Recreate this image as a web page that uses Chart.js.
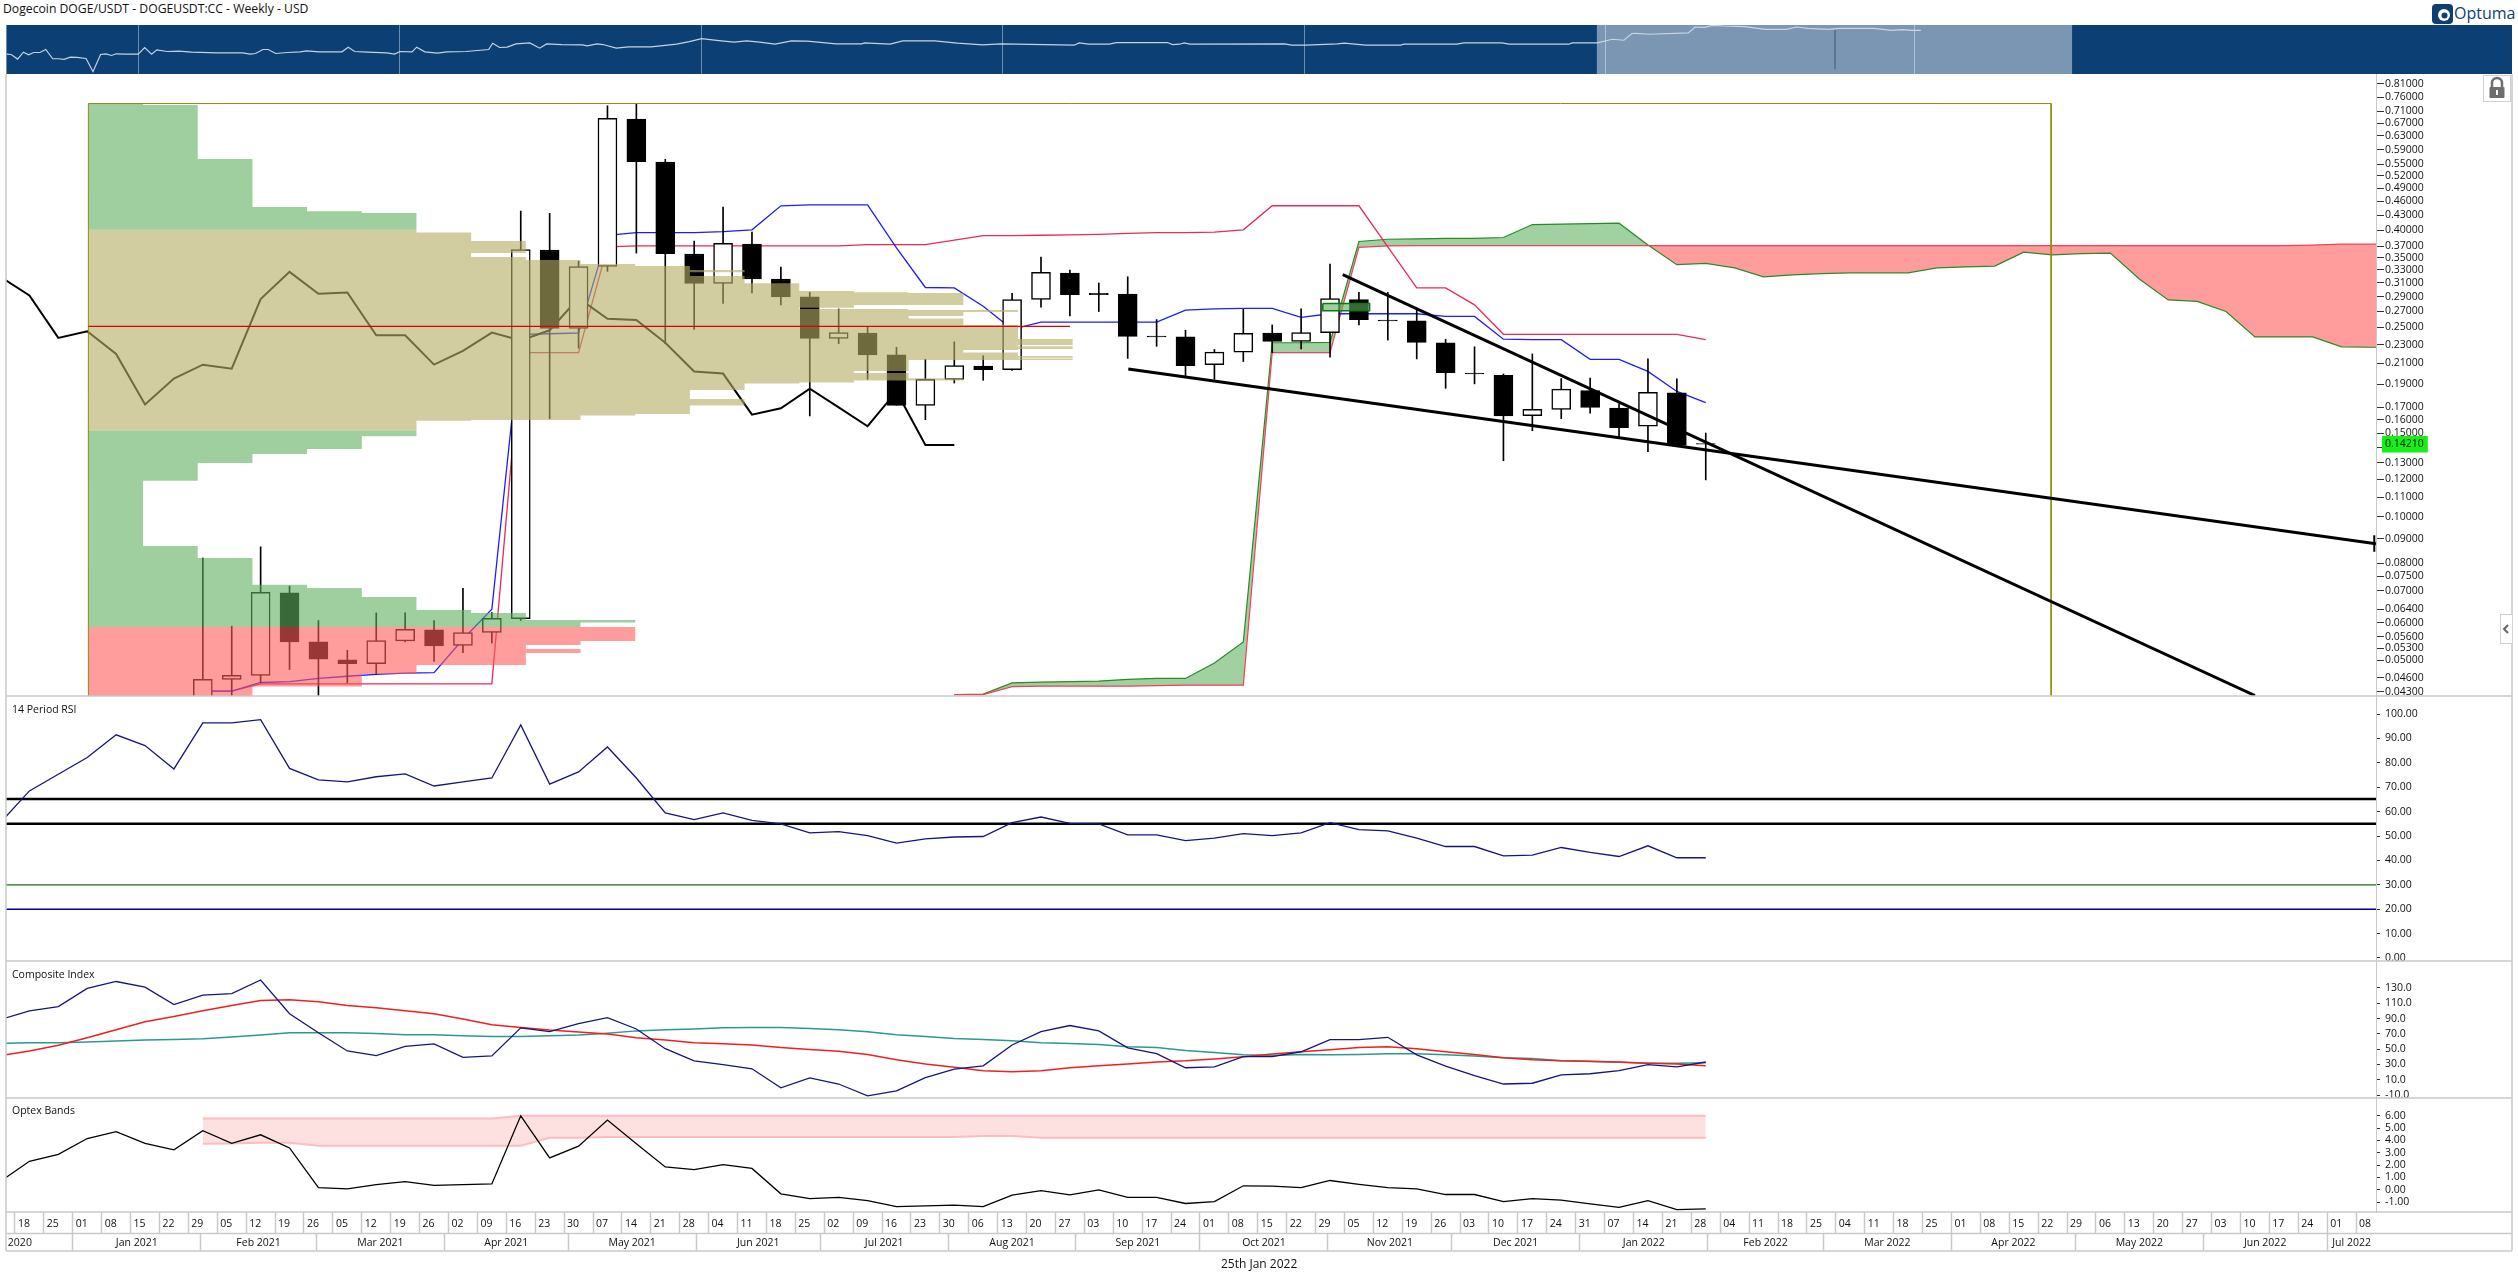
<!DOCTYPE html>
<html><head><meta charset="utf-8"><title>Dogecoin DOGE/USDT</title>
<script src="https://cdn.jsdelivr.net/npm/chart.js@4"></script>
<style>
html,body{margin:0;padding:0;background:#fff;overflow:hidden;width:2518px;height:1284px;font-family:"Open Sans",sans-serif;color:#111}
canvas{position:absolute;display:block}
.t{position:absolute;white-space:nowrap;line-height:1}
</style></head><body>
<div class="t" style="left:3px;top:3px;font-size:12.2px">Dogecoin DOGE/USDT - DOGEUSDT:CC - Weekly - USD</div>
<svg style="position:absolute;left:2432px;top:4px" width="21" height="20" viewBox="0 0 21 20"><rect width="21" height="20" rx="4" fill="#0c3f73"/><circle cx="12" cy="11" r="6" fill="#fff"/><circle cx="12.5" cy="11.5" r="3" fill="#0c3f73"/></svg>
<div class="t" style="left:2454px;top:5px;font-size:16px;color:#0c3f73">Optuma</div>
<canvas id="nav" style="left:6px;top:25px;background:#0c3f73" width="2506" height="49"></canvas>
<canvas id="main" style="left:0;top:74px" width="2518" height="1210"></canvas>
<div class="t" style="left:12px;top:704px;font-size:10.5px">14 Period RSI</div>
<div class="t" style="left:12px;top:969px;font-size:10.5px">Composite Index</div>
<div class="t" style="left:12px;top:1105px;font-size:10.5px">Optex Bands</div>
<div class="t" style="left:1221px;top:1258px;font-size:12px">25th Jan 2022</div>
<svg style="position:absolute;left:2483px;top:75px" width="28" height="27" viewBox="0 0 28 27"><rect x=".5" y=".5" width="27" height="26" fill="#fff" stroke="#d0d0d0"/><path d="M9 13V8a5 5 0 0 1 10 0v5" fill="none" stroke="#6e6e6e" stroke-width="2.5"/><rect x="6.5" y="12" width="15" height="11" rx="1" fill="#6e6e6e"/><rect x="13" y="15" width="2" height="5" fill="#fff"/></svg>
<svg style="position:absolute;left:2500px;top:614px" width="12" height="30" viewBox="0 0 12 30"><rect x=".5" y=".5" width="12" height="29" fill="#fff" stroke="#d0d0d0"/><path d="M8 11l-4 4 4 4" fill="none" stroke="#666" stroke-width="2"/></svg>
<script>
// ---- time axis
const weekLabels=["18","25","01","08","15","22","29","05","12","19","26","05","12","19","26","02","09","16","23","30","07","14","21","28","04","11","18","25","02","09","16","23","30","06","13","20","27","03","10","17","24","01","08","15","22","29","05","12","19","26","03","10","17","24","31","07","14","21","28","04","11","18","25","04","11","18","25","01","08","15","22","29","06","13","20","27","03","10","17","24","01","08"];
const monthLabels=["Jan 2021","Feb 2021","Mar 2021","Apr 2021","May 2021","Jun 2021","Jul 2021","Aug 2021","Sep 2021","Oct 2021","Nov 2021","Dec 2021","Jan 2022","Feb 2022","Mar 2022","Apr 2022","May 2022","Jun 2022"];
const monthEdges=[1.5,5.93,9.93,14.36,18.64,23.07,27.36,31.79,36.21,40.5,44.93,49.21,53.64,58.07,62.07,66.5,70.79,75.21,79.5];
const axisMin=-0.81, axisMax=81.19;
// ---- candles (first candle = week index 6)
const candleStart=6;
const candleOpen=[.0405,.04563,.04652,.06932,.05468,.05016,.0492,.05492,.05795,.05375,.05721,.0612,.3632,.2485,.3354,.6834,.5555,.3562,.309,.3736,.3157,.2896,.237,.2432,.2188,.1715,.1944,.2074,.2038,.2859,.3247,.2946,.2934,.2396,.2386,.2087,.2217,.2432,.2335,.2437,.2859,.2589,.2578,.232,.2003,.1982,.1632,.1682,.1842,.1692,.155,.1822,.1425];
const candleClose=[.04563,.04652,.06947,.05468,.05027,.0492,.05504,.05808,.05363,.05721,.0613,.364,.2485,.3354,.6863,.5567,.357,.309,.3752,.3157,.2896,.237,.2437,.2188,.1715,.1944,.2078,.2038,.2859,.3261,.2928,.2928,.2391,.2386,.2078,.2217,.2427,.2335,.2437,.2871,.2595,.2578,.2325,.2008,.1995,.1629,.1682,.1854,.1697,.154,.1826,.1412,.1421];
const candleHigh=[.08202,.05897,.08656,.07159,.06064,.05248,.0629,.0629,.06064,.07083,.063,.4382,.4335,.3442,.729,.7369,.5628,.3792,.4468,.396,.3346,.2959,.2732,.2507,.227,.2142,.233,.2179,.2946,.3509,.3296,.3096,.3191,.2595,.2464,.2246,.2727,.2529,.2732,.3391,.2959,.2959,.2715,.236,.2275,.1995,.2198,.1952,.1956,.1726,.2146,.1948,.15];
const candleLow=[.036,.0395,.04484,.04784,.0405,.04484,.04682,.05468,.04973,.05192,.05444,.06064,.1608,.226,.3275,.3578,.231,.2475,.2804,.2953,.2786,.1629,.231,.1944,.1715,.16,.191,.1935,.2029,.2756,.264,.2698,.2151,.228,.1965,.1944,.2119,.2212,.2251,.2165,.2529,.235,.2146,.1862,.1902,.1312,.1517,.1608,.165,.1469,.137,.1406,.1196];
// ---- ichimoku
const tenkanStart=6;
const tenkan=[.04312,.04312,.04494,.04514,.04582,.04632,.04672,.04703,.04713,.05539,.064,.2417,.2423,.2432,.39,.3951,.3951,.3951,.3968,.4003,.4497,.4516,.4516,.4516,.3671,.303,.3024,.2768,.2475,.2562,.2562,.2562,.2562,.2562,.2715,.2732,.2738,.2738,.2623,.2669,.2669,.2669,.2669,.2635,.2635,.236,.2355,.2355,.2142,.2142,.202,.1834,.1737];
const kijun=[.04312,.04312,.04465,.04465,.04465,.04465,.04465,.04465,.04465,.04465,.04465,.2212,.2212,.2212,.3688,.3704,.3704,.3704,.3704,.3704,.3704,.3704,.3704,.3728,.3728,.3728,.3809,.3892,.3892,.39,.3908,.3917,.3934,.3951,.3951,.396,.4003,.4497,.4497,.4497,.4497,.3688,.3024,.3024,.2786,.2417,.2417,.2417,.2417,.2417,.2417,.2417,.2355];
const chikouStart=-1;
const chikou=[.3191,.2915,.2375,.2453,.2198,.1722,.1952,.2087,.2047,.2865,.3268,.294,.2959,.2406,.2406,.2087,.2231,.2437,.2345,.2464,.2878,.2606,.2589,.232,.202,.1999,.1639,.169,.1858,.1698,.155,.1834,.1415,.1415];
const cloudStart=32;
const senkouA=[.0424,.0425,.04484,.04504,.04514,.04525,.04563,.04582,.04582,.0494,.05468,.232,.232,.2325,.3784,.3825,.3834,.3842,.3842,.3858,.4107,.4116,.4125,.4134,.3719,.3383,.3405,.3332,.3191,.3219,.3239,.3253,.3253,.3253,.3332,.3346,.3361,.3593,.3547,.357,.3578,.3157,.2853,.2834,.2698,.2386,.2386,.2386,.2275,.227,.227];
const senkouB=[.0424,.0424,.04406,.04415,.04415,.04415,.04415,.04425,.04436,.04436,.04436,.2212,.2212,.2212,.3679,.3704,.3711,.3711,.3711,.3711,.3711,.3711,.3711,.3711,.3711,.3711,.3711,.3711,.3711,.3711,.3711,.3711,.3711,.3711,.3711,.3711,.3711,.3711,.3711,.3711,.3711,.3711,.3711,.3711,.3711,.3711,.3711,.372,.3736,.3736,.3736];
// ---- volume profile (price edges and histogram levels)
const vpLeft=2.04, vpRight=69.95, vpUnit=1.892, vpTop=.7369, vpPoc=.2512, vpPocEnd=36.0;
const vpGreenTopEdges=[.7369,.7322,.564,.4468,.4382,.4344,.4003];
const vpGreenTopLevels=[1,2,3,4,5,6];
const vpTanEdges=[.4003,.3951,.3792,.3578,.3509,.3461,.3395,.3362,.3296,.3261,.3204,.3092,.2979,.2961,.2951,.2785,.2749,.2731,.2718,.2692,.2641,.2607,.2529,.2363,.2296,.2281,.2252,.2241,.2212,.2176,.2159,.2149,.2135,.2101,.2025,.2005,.1954,.1933,.1914,.1905,.1847,.1768,.1713,.1645,.1632,.1598,.1591,.1516];
const vpTanLevels=[6,7,8,7,8,9,10,11,12,11,12,13,14,15,16,14,13,15,17,16,15,16,17,18,17,18,17,16,17,18,17,18,15,15,14,15,16,14,13,12,11,12,11,10,9,7,6];
const vpGreenMidEdges=[.1516,.1476,.1388,.1355,.1298,.1191,.08694,.08202,.07205,.07098,.06794,.06382,.0629,.06081,.06003,.05877];
const vpGreenMidLevels=[6,5,4,3,2,1,2,3,4,5,6,7,8,10,9];
const vpRedEdges=[.05877,.05494,.05388,.05286,.05185,.04889,.04684,.04406,.0421];
const vpRedLevels=[10,9,8,9,8,6,5,3];
const boxX=[44.75,46.37], boxY=[.2804,.2709];
// ---- trend lines
const trendA={x:[38.02,81.19],y:[.2043,.08788]};
const trendB={x:[45.44,77.0],y:[.3226,.0422]};
const trendCap={x:[81.13,81.13],y:[.0915,.0845]};
// ---- price axis
const priceTicks=[.81,.76,.71,.67,.63,.59,.55,.52,.49,.46,.43,.40,.37,.35,.33,.31,.29,.27,.25,.23,.21,.19,.17,.16,.15,.14,.13,.12,.11,.10,.09,.08,.075,.07,.064,.06,.056,.053,.05,.046,.043];
const lastPrice=.1421;
// ---- RSI (first value = week -1)
const rsi=[55.5,68.5,75.3,82.2,91.5,87.1,77.5,96.4,96.4,97.7,77.7,73.0,72.2,74.3,75.5,70.5,72.2,73.8,95.5,71.3,76.3,86.5,73.8,59.5,56.7,59.5,56.4,55.0,51.3,51.8,50.2,47.1,48.8,49.6,49.8,55.5,57.8,55.2,55.0,50.5,50.5,48.1,49.1,51.0,50.2,51.3,55.5,52.6,52.1,49.1,45.7,45.7,41.9,42.2,45.3,43.3,41.6,46.0,41.1,41.1];
const rsiTicks=[100,90,80,70,60,50,40,30,20,10,0];
// ---- composite index
const compositeLine=[88.8,100.2,105.7,129.5,138.5,131,108.2,120.6,122.6,140.4,96.3,71.4,47.6,41.6,53.6,57,39.2,41.1,77.9,72.9,83.3,91.3,76.4,50.6,34.7,29.7,24.3,-.6,12.3,4.4,-11,-4.5,12.8,23.8,28.2,55.5,72.9,80.9,73.9,51.6,44.1,25.7,26.7,40.1,40.1,46.6,62.5,62.5,65.5,42.6,27.7,15.3,4.4,5.4,16.3,17.8,21.8,29.7,26.7,33.2];
const compositeFast=[41.6,47.6,55,65,75.4,85.8,92.8,100.2,107.2,113.6,114.6,112.1,107.2,104.2,100.2,96.3,89.3,81.9,78.4,74.9,72.4,69.9,65,62,58.5,57,55.5,52.1,49.6,47.1,43.1,36.2,30.7,26.2,21.8,20.3,21.8,25.7,28.2,30.7,33.2,34.7,37.2,40.1,43.6,46.6,49.1,52.1,53.1,50.6,46.6,43.1,38.7,36.2,34.7,34.2,33.2,31.7,30.7,28.2];
const compositeSlow=[57.5,58.5,58.5,59.5,60.5,62,62.5,63.5,66,68.5,71.4,71.4,71.4,70.4,68.9,68.9,67.5,66.5,66.5,67.5,68.5,70.9,73.9,75.4,76.4,77.9,78.4,78.4,76.9,75.4,72.9,68.9,66.5,64,62.5,61,58.5,57.5,56,53.1,52.1,48.1,45.6,42.6,41.6,43.1,42.6,43.1,44.1,44.1,42.6,41.1,38.7,37.7,34.7,33.7,32.7,31.7,31.7,32.2];
const compositeTicks=[130,110,90,70,50,30,10,-10];
// ---- optex bands
const optex=[.69,2.31,2.87,4.16,4.71,3.76,3.24,4.8,3.76,4.46,3.39,.17,.07,.41,.66,.35,.41,.47,6.0,2.59,3.54,5.66,3.73,1.85,1.64,2.04,1.73,-.33,-.72,-.63,-.88,-1.37,-1.31,-1.25,-1.37,-.44,-.08,-.42,-.02,-.63,-.63,-1.12,-.97,.32,.29,.17,.75,.44,.17,.07,-.39,-.39,-.97,-.72,-.85,-1.15,-1.43,-.88,-1.62,-1.55];
const optexBandStart=6;
const optexUpper=[5.78,5.78,5.78,5.78,5.78,5.78,5.78,5.78,5.78,5.78,5.78,6,6,6,6,6,6,6,6,6,6,6,6,6,6,6,6,6,6,6,6,6,6,6,6,6,6,6,6,6,6,6,6,6,6,6,6,6,6,6,6,6,6];
const optexLower=[3.73,3.76,3.82,3.82,3.57,3.57,3.57,3.57,3.57,3.57,3.57,3.57,4.22,4.22,4.28,4.28,4.28,4.28,4.28,4.28,4.28,4.28,4.28,4.28,4.28,4.28,4.28,4.37,4.37,4.22,4.22,4.22,4.22,4.22,4.22,4.22,4.22,4.22,4.22,4.22,4.22,4.22,4.22,4.22,4.22,4.22,4.22,4.22,4.22,4.22,4.22,4.22,4.22];
const optexTicks=[6,5,4,3,2,1,0,-1];
// ---- navigator (weeks since start, level)
const navWeeks=[.13,.9,2,3,3.9,4.75,5.85,6.85,8.05,9.05,10,11.1,12.2,13.8,15,16.3,17.2,18.2,19,20.5,22.8,23.9,25.1,26,27.8,29.8,32,36.4,40.8,42.1,43,44.3,45.2,46.5,48.5,50.7,51.8,54,57.9,59,60.1,62.3,65.6,67,67.9,70,70.8,72.2,74.4,76,79.3,83.2,83.9,85.1,86.4,87.9,90.3,92,93.2,95.8,99.3,100.2,101.9,102.9,105.2,107.3,111.2,115.6,117.8,119.9,123.3,125.5,127.7,129.9,132.6,135.4,138.1,143.1,147.5,148,152.4,154.6,160.1,164,168.4,171.45,184.15,185,186.6,190.2,191.4,200.2,201.1,202.3,203.1,204.1,220.4,221.6,224.1,229.5,230.7,232.5,234.4,240.4,241,250.1,251.3,257.9,259.1,269.4,270,274.3,276.9,278.9,280.3,280.9,283.3,290,291.2,292.8,294.2,296,299.7,303.3,306.9,308.7,310.6,314.2,316,322,325.1,326.9,328.7,330.1];
const navLevels=[60,59,45,66,58,65,65,74,46,46,44,51,50,47,7,59,61,56,61,60,60,80,60,73,68,69,66,64,64,60,62,74,74,62,65,67,70,67,67,81,68,66,64,60,68,67,81,67,63,67,68,74,93,80,81,91,94,78,91,89,88,85,91,89,78,82,82,90,98,107,100,96,100,96,90,100,99,91,91,94,90,100,100,93,88,91,87,94,90,90,95,95,89,90,94,90,91,87,87,91,93,90,87,87,90,90,94,94,90,90,94,94,105,102,122,123,120,124,142,141,147,145,143,135,135,142,138,135,138,138,132,134,132,132];
const navLowSpike={x:[315.3,315.3],y:[132,15]};
const navYears=["2015","2016","2017","2018","2019","2020","2021","2022"];
const navYearWeeks=[0,22.8,67.9,119.9,171.8,223.9,275.8,329];
const navBand={x:[274.2,356.2]};

// ---- helpers
const FONT='"Open Sans"';
Chart.defaults.font.family=FONT;
Chart.defaults.font.size=10.5;
Chart.defaults.color='#111';
const pts=(arr,start)=>arr.map((y,k)=>({x:k+start,y}));
const seg=o=>o.x.map((x,k)=>({x,y:o.y[k]}));
function vpPolygon(edges,levels){
  const p=[{x:vpLeft,y:edges[0]}];
  levels.forEach((l,k)=>{const r=vpLeft+l*vpUnit;p.push({x:r,y:edges[k]},{x:r,y:edges[k+1]});});
  p.push({x:vpLeft,y:edges[edges.length-1]});
  return p;
}
const line=(label,data,yAxisID,color,width,order,extra)=>Object.assign({type:'line',label,data,yAxisID,xAxisID:'x',borderColor:color,borderWidth:width,pointRadius:0,tension:0,fill:false,order,parsing:{xAxisKey:'x',yAxisKey:'y'}},extra||{});
const poly=(label,data,color,order)=>line(label,data,'yPrice','rgba(0,0,0,0)',0,order,{fill:'shape',backgroundColor:color});
const hline=(label,v,color,w)=>line(label,[{x:axisMin,y:v},{x:axisMax,y:v}],'yRsi',color,w,10);

const TAN='rgba(180,174,102,.61)',GREEN='rgba(95,175,95,.6)',RED='rgba(255,90,90,.6)';
const isUp=candleOpen.map((o,k)=>candleClose[k]>=o);
const bodyData=candleOpen.map((o,k)=>({x:k+candleStart,y:[o,candleClose[k]]}));
const wickData=candleLow.map((l,k)=>({x:k+candleStart,y:[l,candleHigh[k]]}));

const datasets=[
 line('Senkou A',pts(senkouA,cloudStart),'yPrice','#2a8a2a',1.2,100,{fill:{target:'+1',above:'#a0d1a0',below:'#ff9d9d'}}),
 line('Senkou B',pts(senkouB,cloudStart),'yPrice','#f0405a',1.2,99),
 line('Kijun',pts(kijun,tenkanStart),'yPrice','#e82a55',1.3,90),
 line('Tenkan',pts(tenkan,tenkanStart),'yPrice','#1c1cff',1.3,89),
 line('Lagging',pts(chikou,chikouStart),'yPrice','#000',2,88),
 {type:'bar',label:'Wick',data:wickData,yAxisID:'yPrice',xAxisID:'x',backgroundColor:'#000',barThickness:1,grouped:false,order:80},
 {type:'bar',label:'Body',data:bodyData,yAxisID:'yPrice',xAxisID:'x',backgroundColor:isUp.map(u=>u?'#fff':'#000'),borderColor:'#000',borderWidth:1.5,borderSkipped:false,barThickness:19,grouped:false,order:79},
 poly('VP green top',vpPolygon(vpGreenTopEdges,vpGreenTopLevels),GREEN,70),
 poly('VP value area',vpPolygon(vpTanEdges,vpTanLevels),TAN,69),
 poly('VP green mid',vpPolygon(vpGreenMidEdges,vpGreenMidLevels),GREEN,68),
 poly('VP red',vpPolygon(vpRedEdges,vpRedLevels),RED,67),
 line('Green bin',[{x:boxX[0],y:boxY[0]},{x:boxX[1],y:boxY[0]},{x:boxX[1],y:boxY[1]},{x:boxX[0],y:boxY[1]},{x:boxX[0],y:boxY[0]}],'yPrice','#0b7a0b',1.5,66,{fill:'shape',backgroundColor:GREEN}),
 line('Range',[{x:vpLeft,y:vpRedEdges[8]},{x:vpLeft,y:vpTop},{x:vpRight,y:vpTop},{x:vpRight,y:vpRedEdges[8]}],'yPrice','#8c8c10',1,60),
 line('POC',[{x:vpLeft,y:vpPoc},{x:vpPocEnd,y:vpPoc}],'yPrice','#e00000',1.2,59),
 line('Trend A',seg(trendA),'yPrice','#000',3,50),
 line('Trend B',seg(trendB),'yPrice','#000',3,49),
 line('Trend cap',seg(trendCap),'yPrice','#000',2,48),
 hline('RSI 65',65.2,'#000',2.5),hline('RSI 55',55,'#000',2.5),hline('RSI 30',30,'#1a6e1a',1.2),hline('RSI 20',20,'#00008b',1.5),
 line('RSI',pts(rsi,-1),'yRsi','#16167a',1.3,9),
 line('Composite slow',pts(compositeSlow,-1),'yComp','#2a9a90',1.5,12),
 line('Composite fast',pts(compositeFast,-1),'yComp','#f02020',1.5,11),
 line('Composite',pts(compositeLine,-1),'yComp','#16167a',1.3,10),
 line('Optex upper',pts(optexUpper,optexBandStart),'yOptex','#ffbcbc',2,22,{fill:{target:'+1',above:'#fde0e0',below:'#fde0e0'}}),
 line('Optex lower',pts(optexLower,optexBandStart),'yOptex','#ffbcbc',2,21),
 line('Optex',pts(optex,-1),'yOptex','#000',1.3,20)
];

const noPad=s=>{s.paddingTop=0;s.paddingBottom=0;s.paddingLeft=0;s.paddingRight=0;};
const fixedW=s=>{s.width=142;noPad(s);};
const setTicks=list=>s=>{s.ticks=list.map(value=>({value}));};
const yAxis=(o)=>Object.assign({position:'right',stack:'panes',afterFit:fixedW,
  border:{display:true,color:'#c9c9c9'},grid:{drawOnChartArea:false,tickColor:'#333',tickLength:4,tickWidth:1}},o);

const frames={id:'frames',afterDraw(c){
  const g=c.ctx,s=c.scales;g.save();g.strokeStyle='#c9c9c9';g.lineWidth=1.5;
  const L=c.chartArea.left,R=2512;
  [s.yPrice.bottom,s.yRsi.bottom,s.yComp.bottom,s.x.top,s.x.bottom,s.x2.bottom].forEach(y=>{g.beginPath();g.moveTo(L,y);g.lineTo(R,y);g.stroke();});
  [L,R].forEach(x=>{g.beginPath();g.moveTo(x,0);g.lineTo(x,s.x2.bottom);g.stroke();});
  g.restore();
}};

const monthTicks=[{value:-0.33,label:'2020'}];
monthEdges.forEach((e,k)=>{
  monthTicks.push({value:e,label:''});
  const next=k<monthEdges.length-1?monthEdges[k+1]:null;
  if(next!==null)monthTicks.push({value:(e+next)/2,label:monthLabels[k]});
});
monthTicks.push({value:(monthEdges[18]+axisMax)/2,label:'Jul 2022'});

new Chart(document.getElementById('main'),{
  type:'line',
  data:{datasets},
  plugins:[frames],
  options:{
    responsive:false,animation:false,devicePixelRatio:1,events:[],
    layout:{padding:{left:6,right:0,top:0,bottom:33}},
    plugins:{legend:{display:false},tooltip:{enabled:false},title:{display:false}},
    scales:{
      x:{type:'linear',position:'bottom',weight:1,min:axisMin,max:axisMax,offset:false,
        afterBuildTicks:s=>{s.ticks=weekLabels.map((_,i)=>({value:i-.5}));},
        afterFit:s=>{s.height=21.6;noPad(s);},
        border:{display:false},
        grid:{drawOnChartArea:false,offset:false,tickLength:21.6,tickColor:'#c9c9c9',tickWidth:1.5},
        ticks:{autoSkip:false,maxRotation:0,minRotation:0,padding:-16,labelOffset:9,callback:(v,i)=>weekLabels[i],font:{size:10.5},color:'#111'}},
      x2:{type:'linear',position:'bottom',weight:2,min:axisMin,max:axisMax,offset:false,
        afterBuildTicks:s=>{s.ticks=monthTicks.map(t=>({value:t.value}));},
        afterFit:s=>{s.height=17.4;noPad(s);},
        border:{display:false},
        grid:{drawOnChartArea:false,offset:false,tickLength:17.4,tickWidth:1.5,
          tickColor:c=>(c.index!==undefined&&monthTicks[c.index]&&monthTicks[c.index].label==='')?'#c9c9c9':'rgba(0,0,0,0)'},
        ticks:{autoSkip:false,maxRotation:0,minRotation:0,padding:-14,callback:(v,i)=>monthTicks[i].label,font:{size:10.5},color:'#111'}},
      yPrice:yAxis({type:'logarithmic',stackWeight:622,weight:1,min:.0421,max:.85,
        afterBuildTicks:s=>{s.ticks=priceTicks.concat(lastPrice).map(value=>({value}));},
        grid:{drawOnChartArea:false,tickLength:8,tickWidth:1,tickColor:c=>c.tick&&c.tick.value===lastPrice?'rgba(0,0,0,0)':'#333'},
        ticks:{autoSkip:false,padding:1,font:{size:10.5},color:'#111',
          callback:v=>(v===.14?'':v.toFixed(5)),
          showLabelBackdrop:c=>c.tick&&c.tick.value===lastPrice,
          backdropColor:'#16f016',backdropPadding:{left:3,right:4,top:2,bottom:2}}}),
      yRsi:yAxis({type:'linear',stackWeight:265,weight:2,min:-1.23,max:107.4,
        afterBuildTicks:setTicks(rsiTicks),
        ticks:{autoSkip:false,padding:5,callback:v=>v.toFixed(2)}}),
      yComp:yAxis({type:'linear',stackWeight:137,weight:3,min:-13.9,max:165.3,
        afterBuildTicks:setTicks(compositeTicks),
        ticks:{autoSkip:false,padding:5,callback:v=>v.toFixed(1)}}),
      yOptex:yAxis({type:'linear',stackWeight:114,weight:4,min:-1.81,max:7.45,
        afterBuildTicks:setTicks(optexTicks),
        ticks:{autoSkip:false,padding:5,callback:v=>v.toFixed(2)}})
    }
  }
});

new Chart(document.getElementById('nav'),{
  type:'line',
  data:{datasets:[
    {label:'Selected range',data:[{x:navBand.x[0],y:150},{x:navBand.x[1],y:150}],borderWidth:0,pointRadius:0,fill:'start',backgroundColor:'rgba(255,255,255,.45)',order:3},
    {label:'Low spike',data:navLowSpike.x.map((x,k)=>({x,y:navLowSpike.y[k]})),borderColor:'rgba(50,80,115,.35)',borderWidth:1,pointRadius:0,fill:false,order:2},
    {label:'History',data:navWeeks.map((x,k)=>({x,y:navLevels[k]})),borderColor:'rgba(205,218,232,.95)',borderWidth:1.2,pointRadius:0,tension:0,fill:false,order:1}
  ]},
  options:{
    responsive:false,animation:false,devicePixelRatio:1,events:[],
    layout:{padding:0},
    plugins:{legend:{display:false},tooltip:{enabled:false}},
    scales:{
      x:{type:'linear',position:'top',min:0,max:432,
        afterBuildTicks:s=>{s.ticks=navYearWeeks.map(value=>({value}));},
        afterFit:s=>{s.height=0;noPad(s);},
        border:{display:false},
        grid:{color:'rgba(255,255,255,.4)',drawTicks:false,lineWidth:1},
        ticks:{autoSkip:false,maxRotation:0,minRotation:0,padding:-16,labelOffset:16,callback:(v,i)=>navYears[i],color:'#d5e0ea',font:{size:10.5}}},
      y:{display:false,min:0,max:148}
    }
  }
});
</script>
</body></html>
